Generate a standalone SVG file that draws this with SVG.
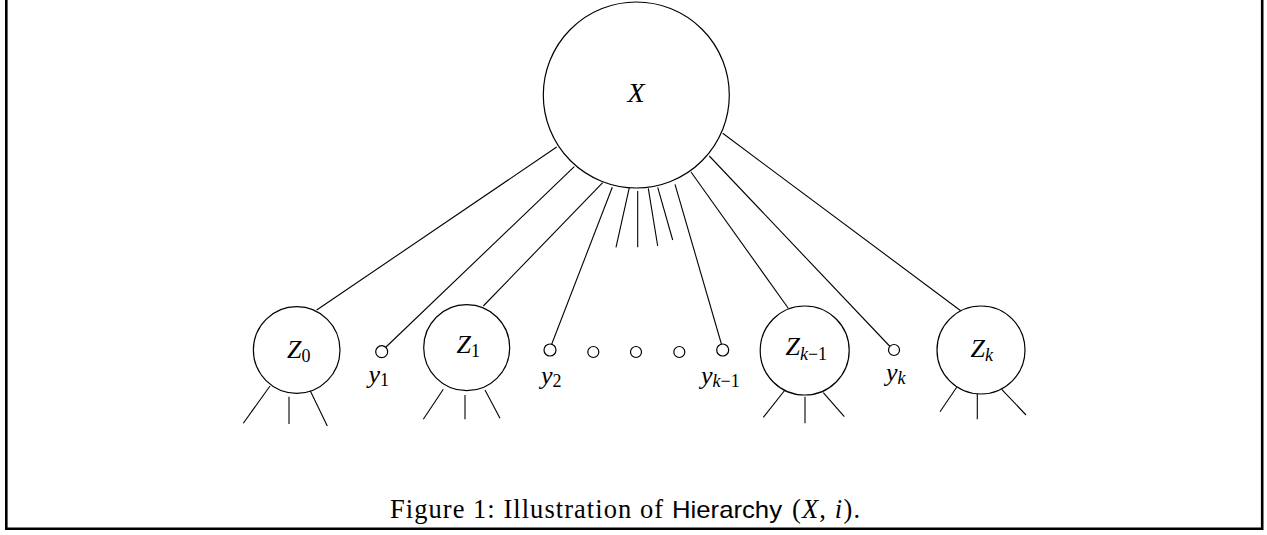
<svg xmlns="http://www.w3.org/2000/svg" width="1267" height="535" viewBox="0 0 1267 535">
<style>
.n{fill:#fff;stroke:#000;stroke-width:1.2}
.e line{stroke:#000;stroke-width:1.1}
.m{font-family:"Liberation Serif",serif;font-style:italic;fill:#000}
.r{font-family:"Liberation Serif",serif;font-style:normal;fill:#000}
.s{font-family:"Liberation Sans",sans-serif;fill:#000}
.f{stroke:#000;stroke-width:2.6;fill:none}
</style>
<rect width="1267" height="535" fill="#fff"/>
<path class="f" d="M6.3,0 V528.8 H1262.2 V0"/>
<g id="connectors" class="e">
<line x1="556.7" y1="147" x2="316.7" y2="310"/>
<line x1="574.3" y1="166.7" x2="385.5" y2="347.5"/>
<line x1="602.7" y1="182.7" x2="483.3" y2="306"/>
<line x1="612.3" y1="187.3" x2="551" y2="346"/>
<line x1="629.3" y1="187.7" x2="616" y2="247.3"/>
<line x1="637.7" y1="191" x2="637.7" y2="247.3"/>
<line x1="648.3" y1="188.3" x2="657.7" y2="246"/>
<line x1="657.7" y1="187.3" x2="672.7" y2="240"/>
<line x1="675" y1="184.3" x2="721.7" y2="345"/>
<line x1="691" y1="172" x2="788.3" y2="308.3"/>
<line x1="709.3" y1="156" x2="890" y2="346.5"/>
<line x1="722.7" y1="133.3" x2="960.7" y2="310.7"/>
<line x1="270" y1="386" x2="243.3" y2="423.3"/>
<line x1="289" y1="396.7" x2="289" y2="424"/>
<line x1="308.3" y1="386.7" x2="327.3" y2="426"/>
<line x1="443.3" y1="389.3" x2="423.3" y2="419.3"/>
<line x1="465" y1="395" x2="465" y2="419.3"/>
<line x1="485" y1="390" x2="500" y2="418.3"/>
<line x1="785" y1="390" x2="763.3" y2="417.3"/>
<line x1="805" y1="396.7" x2="805" y2="423.3"/>
<line x1="823.3" y1="392.7" x2="844.3" y2="416.7"/>
<line x1="956.7" y1="387.3" x2="940" y2="411.7"/>
<line x1="977.3" y1="393.3" x2="977.3" y2="419.3"/>
<line x1="1001.7" y1="389.3" x2="1026" y2="415"/>
</g>
<g id="X"><circle class="n" cx="636.3" cy="95" r="93"/><text class="m" x="627.5" y="101.7" font-size="28">X</text></g>
<g id="Z0"><circle class="n" cx="296.7" cy="350" r="43.3"/><text class="m" x="287" y="358.3" font-size="26">Z<tspan class="r" font-style="normal" font-size="18" dy="3.5">0</tspan></text></g>
<g id="y1"><circle class="n" cx="381.7" cy="351.7" r="6"/><text class="m" x="368.5" y="383" font-size="26">y<tspan class="r" font-style="normal" font-size="18" dy="3">1</tspan></text></g>
<g id="Z1"><circle class="n" cx="466.7" cy="347.7" r="43"/><text class="m" x="456.5" y="352.7" font-size="26">Z<tspan class="r" font-style="normal" font-size="18" dy="4">1</tspan></text></g>
<g id="y2"><circle class="n" cx="550" cy="350" r="6"/><text class="m" x="541" y="384" font-size="26">y<tspan class="r" font-style="normal" font-size="18" dy="3">2</tspan></text></g>
<g id="d1"><circle class="n" cx="593.3" cy="352" r="5.5"/></g>
<g id="d2"><circle class="n" cx="636" cy="352" r="5.5"/></g>
<g id="d3"><circle class="n" cx="679.3" cy="352" r="5.5"/></g>
<g id="yk1"><circle class="n" cx="722.7" cy="350" r="6"/><text class="m" x="701" y="384" font-size="26">y<tspan font-size="18" dy="3">k</tspan><tspan class="r" font-style="normal" font-size="18">−1</tspan></text></g>
<g id="Zk1"><circle class="n" cx="804.7" cy="350.5" r="44.5"/><text class="m" x="785.5" y="355" font-size="26">Z<tspan font-size="18" dy="5">k</tspan><tspan class="r" font-style="normal" font-size="18">−1</tspan></text></g>
<g id="yk"><circle class="n" cx="894" cy="350" r="5.5"/><text class="m" x="886" y="381" font-size="26">y<tspan font-size="18" dy="3">k</tspan></text></g>
<g id="Zk"><circle class="n" cx="981" cy="350" r="44"/><text class="m" x="970.5" y="356.7" font-size="26">Z<tspan font-size="18" dy="4">k</tspan></text></g>
<g id="caption">
<text class="r" x="390" y="518.3" font-size="26.5" textLength="273" lengthAdjust="spacing">Figure 1:  Illustration of</text>
<text class="s" x="672" y="518.3" font-size="24" textLength="110" lengthAdjust="spacingAndGlyphs">Hierarchy</text>
<text class="r" x="792" y="518.3" font-size="26.5" textLength="68" lengthAdjust="spacing">(<tspan class="m">X</tspan>, <tspan class="m">i</tspan>).</text>
</g>
</svg>
